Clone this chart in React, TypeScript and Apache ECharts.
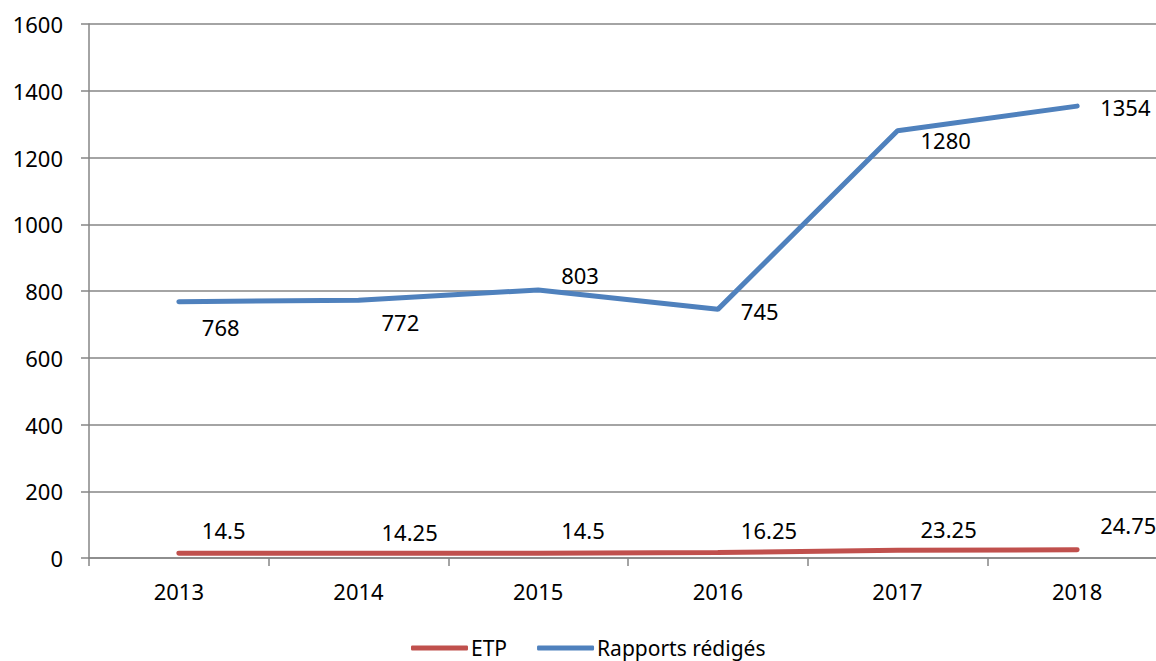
import React, { useEffect, useRef } from "react";
import * as echarts from "echarts";

const years = ["2013", "2014", "2015", "2016", "2017", "2018"];
const etp = [14.5, 14.25, 14.5, 16.25, 23.25, 24.75];
const rapports = [768, 772, 803, 745, 1280, 1354];

// vertical label offsets (px) for each point
const etpLabelDy = [-23, -21, -23, -23, -21, -25];
const rapportsLabelDy = [25, 22, -15, 2, 9, 1];

const FONT = "Noto Sans";
const RED = "#C0504D";
const BLUE = "#4F81BD";
const GRID = "#868686";

export default function App() {
  const ref = useRef<HTMLDivElement>(null);
  useEffect(() => {
    if (!ref.current) return;
    const chart = echarts.init(ref.current, undefined, { renderer: "svg" });
    const mk = (vals: number[], dys: number[]) =>
      vals.map((v, i) => ({ value: v, label: { offset: [0, dys[i]] } }));
    chart.setOption({
      animation: false,
      textStyle: { fontFamily: FONT },
      grid: { left: 89, top: 24, width: 1078, height: 534, containLabel: false },
      legend: {
        left: 411,
        top: 637,
        itemWidth: 57,
        itemHeight: 5,
        itemGap: 30,
        padding: 0,
        icon: "roundRect",
        textStyle: {
          fontFamily: FONT,
          fontSize: 21,
          lineHeight: 22,
          color: "#000",
          padding: [0, 0, 0, -2],
        },
        data: ["ETP", "Rapports rédigés"],
      },
      xAxis: {
        type: "category",
        data: years,
        boundaryGap: true,
        axisLine: { lineStyle: { color: GRID, width: 1.5 } },
        axisTick: { show: true, length: 8, lineStyle: { color: GRID, width: 1.5 } },
        axisLabel: { fontFamily: FONT, fontSize: 22, color: "#000", margin: 22 },
        splitLine: { show: false },
      },
      yAxis: {
        type: "value",
        min: 0,
        max: 1600,
        interval: 200,
        axisLine: { show: true, lineStyle: { color: GRID, width: 1.5 } },
        axisTick: { show: true, length: 8, lineStyle: { color: GRID, width: 1.5 } },
        axisLabel: {
          fontFamily: FONT,
          fontSize: 22,
          color: "#000",
          margin: 26,
          formatter: (v: number) => String(v),
        },
        splitLine: { show: true, lineStyle: { color: GRID, width: 1.5 } },
      },
      series: [
        {
          name: "ETP",
          type: "line",
          data: mk(etp, etpLabelDy),
          symbol: "circle",
          symbolSize: 2,
          showSymbol: true,
          color: RED,
          lineStyle: { color: RED, width: 5, cap: "round" },
          itemStyle: { color: RED },
          label: {
            show: true,
            position: "right",
            distance: 22,
            fontFamily: FONT,
            fontSize: 22,
            color: "#000",
          },
        },
        {
          name: "Rapports rédigés",
          type: "line",
          data: mk(rapports, rapportsLabelDy),
          symbol: "circle",
          symbolSize: 2,
          showSymbol: true,
          color: BLUE,
          lineStyle: { color: BLUE, width: 5, cap: "round" },
          itemStyle: { color: BLUE },
          label: {
            show: true,
            position: "right",
            distance: 22,
            fontFamily: FONT,
            fontSize: 22,
            color: "#000",
          },
        },
      ],
    });
    return () => chart.dispose();
  }, []);
  return (
    <div
      style={{
        position: "fixed",
        left: 0,
        top: 0,
        width: 1156,
        height: 661,
        overflow: "hidden",
        background: "#fff",
      }}
    >
      <div ref={ref} style={{ width: 1180, height: 661 }} />
    </div>
  );
}
